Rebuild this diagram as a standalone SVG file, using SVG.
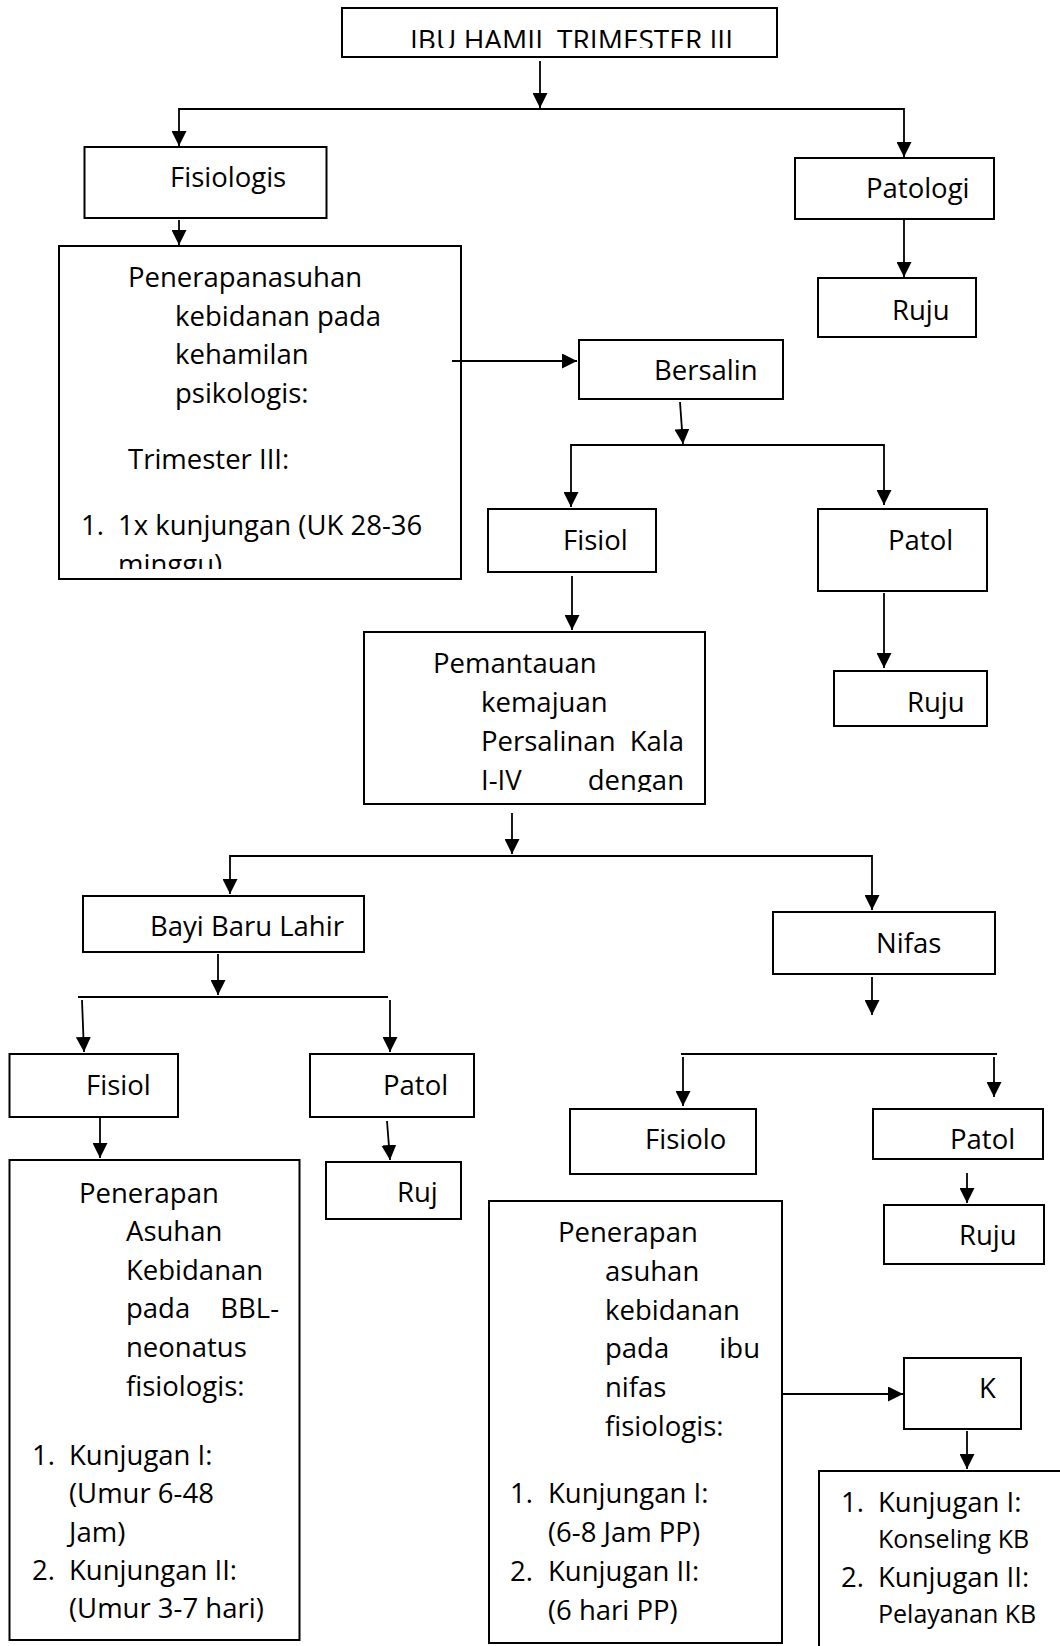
<svg xmlns="http://www.w3.org/2000/svg" width="1060" height="1646" viewBox="0 0 1060 1646">
<style>
.box{fill:#fff;stroke:#000;stroke-width:2}
.t{font-family:"Open Sans","Liberation Sans",sans-serif;font-size:27.5px;fill:#000}
.s{font-size:25px}
.c{fill:none;stroke:#000;stroke-width:1.8}
.a{marker-end:url(#ah)}
</style>
<defs>
<marker id="ah" markerUnits="userSpaceOnUse" markerWidth="16" markerHeight="15" refX="15" refY="7.5" orient="auto" viewBox="0 0 16 15"><path d="M0,0 L15,7.5 L0,15 z" fill="#000"/></marker>
<clipPath id="clipTop"><rect x="342" y="8" width="435" height="40"/></clipPath>
<clipPath id="clipP1"><rect x="59" y="246" width="402" height="323"/></clipPath>
<clipPath id="clipPm"><rect x="364" y="632" width="341" height="160"/></clipPath>
</defs>
<rect width="1060" height="1646" fill="#fff"/>
<g id="nodes">
<g id="n-ibu"><rect class="box" x="342" y="8" width="435" height="49"/><text class="t" x="410" y="50" textLength="323" lengthAdjust="spacingAndGlyphs" clip-path="url(#clipTop)">IBU HAMIL TRIMESTER III</text></g>
<g id="n-fisiologis"><rect class="box" x="84.5" y="147" width="242" height="71"/><text class="t" x="170" y="187">Fisiologis</text></g>
<g id="n-patologi"><rect class="box" x="795" y="158" width="199" height="61"/><text class="t" x="866" y="198">Patologi</text></g>
<g id="n-ruju1"><rect class="box" x="818" y="278" width="158" height="59"/><text class="t" x="892" y="320">Ruju</text></g>
<g id="n-penerapan1"><rect class="box" x="59" y="246" width="402" height="333"/>
<g clip-path="url(#clipP1)">
<text class="t" x="128" y="287">Penerapanasuhan</text>
<text class="t" x="175" y="326">kebidanan pada</text>
<text class="t" x="175" y="364">kehamilan</text>
<text class="t" x="175" y="403">psikologis:</text>
<text class="t" x="128" y="469">Trimester III:</text>
<text class="t" x="81" y="535">1.</text><text class="t" x="118" y="535">1x kunjungan (UK 28-36</text>
<text class="t" x="118" y="574">minggu)</text>
</g></g>
<g id="n-bersalin"><rect class="box" x="579" y="340" width="204" height="59"/><text class="t" x="654" y="380">Bersalin</text></g>
<g id="n-fisiol1"><rect class="box" x="488" y="509" width="168" height="63"/><text class="t" x="563" y="550">Fisiol</text></g>
<g id="n-patol1"><rect class="box" x="818" y="509" width="169" height="82"/><text class="t" x="888" y="550">Patol</text></g>
<g id="n-ruju2"><rect class="box" x="834" y="671" width="153" height="55"/><text class="t" x="907" y="712">Ruju</text></g>
<g id="n-pemantauan"><rect class="box" x="364" y="632" width="341" height="172"/>
<g clip-path="url(#clipPm)">
<text class="t" x="433" y="673">Pemantauan</text>
<text class="t" x="481" y="712">kemajuan</text>
<text class="t" x="481" y="751">Persalinan</text><text class="t" x="684" y="751" text-anchor="end">Kala</text>
<text class="t" x="481" y="790">I-IV</text><text class="t" x="684" y="790" text-anchor="end">dengan</text>
</g></g>
<g id="n-bbl"><rect class="box" x="83" y="896" width="281" height="56"/><text class="t" x="150" y="936">Bayi Baru Lahir</text></g>
<g id="n-nifas"><rect class="box" x="773" y="912" width="222" height="62"/><text class="t" x="876" y="953">Nifas</text></g>
<g id="n-fisiol2"><rect class="box" x="9.5" y="1054" width="168.5" height="63"/><text class="t" x="86" y="1095">Fisiol</text></g>
<g id="n-patol2"><rect class="box" x="310" y="1054" width="164" height="63"/><text class="t" x="383" y="1095">Patol</text></g>
<g id="n-fisiolo"><rect class="box" x="570" y="1109" width="186" height="65"/><text class="t" x="645" y="1149">Fisiolo</text></g>
<g id="n-patol3"><rect class="box" x="873" y="1109" width="170" height="50"/><text class="t" x="950" y="1149">Patol</text></g>
<g id="n-penerapan-bbl"><rect class="box" x="9.5" y="1160" width="290" height="480"/>
<text class="t" x="79" y="1203">Penerapan</text>
<text class="t" x="126" y="1241">Asuhan</text>
<text class="t" x="126" y="1280">Kebidanan</text>
<text class="t" x="126" y="1318">pada</text><text class="t" x="279" y="1318" text-anchor="end">BBL-</text>
<text class="t" x="126" y="1357">neonatus</text>
<text class="t" x="126" y="1396">fisiologis:</text>
<text class="t" x="32" y="1465">1.</text><text class="t" x="69" y="1465">Kunjugan I:</text>
<text class="t" x="69" y="1503">(Umur 6-48</text>
<text class="t" x="69" y="1542">Jam)</text>
<text class="t" x="32" y="1580">2.</text><text class="t" x="69" y="1580">Kunjungan II:</text>
<text class="t" x="69" y="1618">(Umur 3-7 hari)</text>
</g>
<g id="n-ruj"><rect class="box" x="326" y="1162" width="135" height="57"/><text class="t" x="397" y="1202">Ruj</text></g>
<g id="n-ruju3"><rect class="box" x="884" y="1205" width="160" height="59"/><text class="t" x="959" y="1245">Ruju</text></g>
<g id="n-penerapan-nifas"><rect class="box" x="489" y="1201" width="293" height="442"/>
<text class="t" x="558" y="1242">Penerapan</text>
<text class="t" x="605" y="1281">asuhan</text>
<text class="t" x="605" y="1320">kebidanan</text>
<text class="t" x="605" y="1358">pada</text><text class="t" x="760" y="1358" text-anchor="end">ibu</text>
<text class="t" x="605" y="1397">nifas</text>
<text class="t" x="605" y="1436">fisiologis:</text>
<text class="t" x="510" y="1503">1.</text><text class="t" x="548" y="1503">Kunjungan I:</text>
<text class="t" x="548" y="1542">(6-8 Jam PP)</text>
<text class="t" x="510" y="1581">2.</text><text class="t" x="548" y="1581">Kunjugan II:</text>
<text class="t" x="548" y="1620">(6 hari PP)</text>
</g>
<g id="n-k"><rect class="box" x="904" y="1358" width="117" height="71"/><text class="t" x="979" y="1398">K</text></g>
<g id="n-kb"><path class="box" d="M1060,1471 H819 V1646" fill="none"/>
<text class="t" x="841" y="1512">1.</text><text class="t" x="878" y="1512">Kunjugan I:</text>
<text class="t s" x="878" y="1548">Konseling KB</text>
<text class="t" x="841" y="1587">2.</text><text class="t" x="878" y="1587">Kunjugan II:</text>
<text class="t s" x="878" y="1623">Pelayanan KB</text>
</g>
</g>
<g id="connectors">
<path class="c a" d="M540,61 V108"/>
<path class="c a" d="M540,109 H179 V146"/>
<path class="c a" d="M540,109 H904 V157"/>
<path class="c a" d="M179,220 V245"/>
<path class="c a" d="M904,219 V277"/>
<path class="c a" d="M452,361 H577"/>
<path class="c a" d="M680,402 L683,444"/>
<path class="c a" d="M683,445 H571 V507"/>
<path class="c a" d="M683,445 H884 V505"/>
<path class="c a" d="M572,576 V630"/>
<path class="c a" d="M884,593 V668"/>
<path class="c a" d="M512,813 V854"/>
<path class="c a" d="M512,856 H230 V894"/>
<path class="c a" d="M512,856 H872 V910"/>
<path class="c a" d="M218,954 V995"/>
<path class="c" d="M78,997 H388"/>
<path class="c a" d="M82,1000 L84,1052"/>
<path class="c a" d="M390,1000 V1052"/>
<path class="c a" d="M872,977 V1015"/>
<path class="c" d="M681,1054 H997"/>
<path class="c a" d="M683,1057 V1106"/>
<path class="c a" d="M994,1057 V1097"/>
<path class="c a" d="M100,1118 V1158"/>
<path class="c a" d="M387,1121 L390,1160"/>
<path class="c a" d="M967,1173 V1203"/>
<path class="c a" d="M782,1394 H903"/>
<path class="c a" d="M967,1431 V1469"/>
</g>
</svg>
